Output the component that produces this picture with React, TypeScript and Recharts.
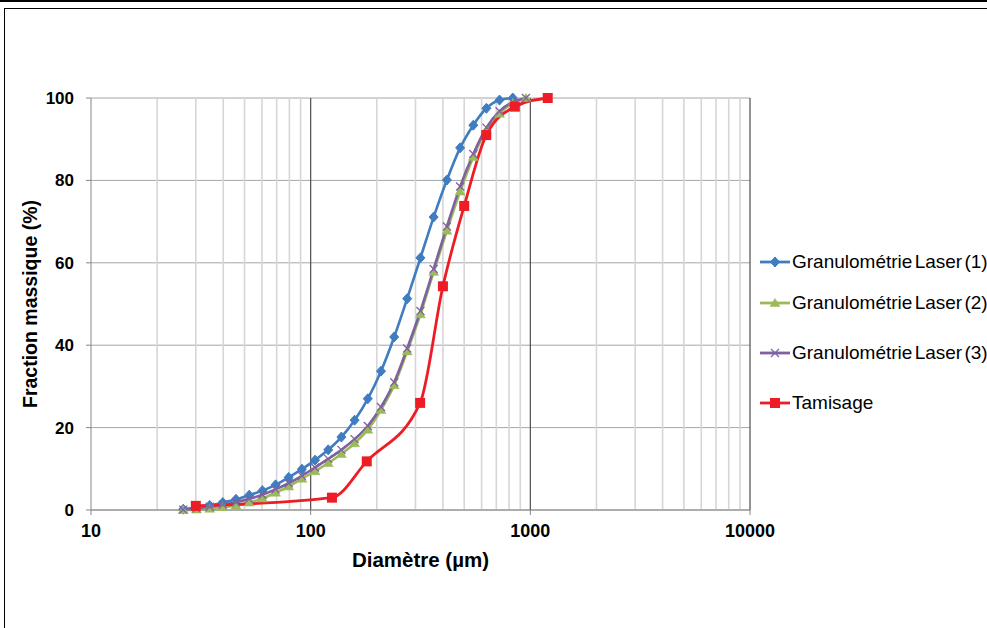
import React from "react";
import { LineChart, Line, XAxis, YAxis, CartesianGrid, ReferenceLine } from "recharts";

// Laser diffraction size classes (µm)
const laserDiam = [26.3, 30.2, 34.7, 39.8, 45.7, 52.5, 60.3, 69.2, 79.4, 91.2, 104.7, 120.2, 138, 158.5, 182, 209, 240, 275, 316, 363, 417, 479, 550, 631, 724, 832, 955];
const laser1 = [0.2, 0.6, 1.1, 1.8, 2.6, 3.6, 4.7, 6.1, 7.9, 9.9, 12.1, 14.6, 17.7, 21.8, 27.0, 33.7, 42.0, 51.3, 61.2, 71.1, 80.1, 87.9, 93.4, 97.5, 99.5, 100];
const laser2 = [0, 0.1, 0.3, 0.7, 1.1, 1.8, 2.8, 4.2, 5.7, 7.6, 9.4, 11.4, 13.6, 16.2, 19.5, 24.3, 30.3, 38.5, 47.5, 57.8, 67.8, 77.3, 85.7, 92.2, 96.2, 98.8, 100];
const laser3 = [0.1, 0.4, 0.8, 1.3, 1.9, 2.7, 3.7, 5.0, 6.5, 8.3, 10.3, 12.4, 14.6, 17.2, 20.4, 25.0, 31.0, 39.2, 48.3, 58.5, 68.8, 78.5, 86.4, 92.8, 96.8, 99.0, 100];
// Sieving
const sieveDiam = [30, 125, 180, 315, 400, 500, 630, 850, 1200];
const sieve = [1.0, 3.0, 11.8, 26.0, 54.3, 73.8, 91.0, 97.9, 100];

const xTicks = [10, 100, 1000, 10000];
const yTicks = [0, 20, 40, 60, 80, 100];
const minorX = [20, 30, 40, 50, 60, 70, 80, 90, 200, 300, 400, 500, 600, 700, 800, 900, 2000, 3000, 4000, 5000, 6000, 7000, 8000, 9000];
const majorX = [100, 1000, 10000];

const names = ["Granulométrie Laser (1)", "Granulométrie Laser (2)", "Granulométrie Laser (3)", "Tamisage"];

const mk = (xs: number[], ys: number[]) => ys.map((v, i) => ({ d: xs[i], v }));
const d1 = mk(laserDiam, laser1);
const d2 = mk(laserDiam, laser2);
const d3 = mk(laserDiam, laser3);
const d4 = mk(sieveDiam, sieve);

const BLUE = "#3f7cc0";
const GREEN = "#9bbb59";
const PURPLE = "#7f60a0";
const RED = "#ee1c25";
const FONT = "Arial, 'Liberation Sans', sans-serif";

const Diamond = ({ cx, cy, c }: any) => (
  <polygon points={`${cx},${cy - 5} ${cx + 4.5},${cy} ${cx},${cy + 5} ${cx - 4.5},${cy}`} fill={c} stroke={c} strokeWidth={1} />
);
const Tri = ({ cx, cy, c }: any) => (
  <polygon points={`${cx},${cy - 4.5} ${cx + 5},${cy + 3.5} ${cx - 5},${cy + 3.5}`} fill={c} stroke={c} strokeWidth={0.5} />
);
const Cross = ({ cx, cy, c }: any) => (
  <g stroke={c} strokeWidth={1.3}>
    <line x1={cx - 4} y1={cy - 4} x2={cx + 4} y2={cy + 4} />
    <line x1={cx - 4} y1={cy + 4} x2={cx + 4} y2={cy - 4} />
  </g>
);
const Square = ({ cx, cy, c }: any) => <rect x={cx - 5} y={cy - 5} width={10} height={10} fill={c} />;

const dotFn = (Comp: any, c: string) => (p: any) => {
  if (p.cx == null || p.cy == null) return <g key={p.index} />;
  return <Comp key={p.index} cx={p.cx} cy={p.cy} c={c} />;
};

const legendItems = [
  { name: names[0], c: BLUE, M: Diamond, y: 262 },
  { name: names[1], c: GREEN, M: Tri, y: 303 },
  { name: names[2], c: PURPLE, M: Cross, y: 353 },
  { name: names[3], c: RED, M: Square, y: 403 },
];

export default function App() {
  return (
    <div style={{ position: "absolute", left: 0, top: 0, width: 987, height: 628, overflow: "hidden", background: "#fff" }}>
      <div style={{ position: "absolute", left: 0, top: 0, width: 987, height: 2, background: "#000" }} />
      <div style={{ position: "absolute", left: 4, top: 8, width: 1100, height: 1000, borderLeft: "1px solid #000", borderTop: "1.5px solid #000" }} />
      <div style={{ position: "absolute", left: 0, top: 0 }}>
        <LineChart width={987} height={628} margin={{ top: 98, right: 237, bottom: 88, left: 0 }}>
          <CartesianGrid vertical={false} stroke="#a6a6a6" strokeWidth={1} />
          {minorX.map((v) => (
            <ReferenceLine key={"m" + v} x={v} stroke="#d6d6d6" strokeWidth={1.6} />
          ))}
          {majorX.map((v) => (
            <ReferenceLine key={"M" + v} x={v} stroke="#4d4d4d" strokeWidth={1.2} />
          ))}
          <XAxis
            type="number"
            dataKey="d"
            scale="log"
            domain={[10, 10000]}
            ticks={xTicks}
            allowDataOverflow
            height={30}
            tickSize={5}
            tickMargin={9}
            stroke="#868686"
            tick={{ fill: "#000", fontSize: 18, fontWeight: "bold", fontFamily: FONT }}
            label={{
              content: (props: any) => {
                const vb = props.viewBox || { x: 91, y: 510, width: 659 };
                return (
                  <text x={vb.x + vb.width / 2} y={vb.y + 49} textAnchor="middle" dominantBaseline="central" fontFamily={FONT} fontWeight="bold" fontSize={20.5} fill="#000">
                    Diamètre (µm)
                  </text>
                );
              },
            }}
          />
          <YAxis
            type="number"
            domain={[0, 100]}
            ticks={yTicks}
            width={91}
            tickSize={5}
            tickMargin={12}
            stroke="#868686"
            tick={{ fill: "#000", fontSize: 17, fontWeight: "bold", fontFamily: FONT }}
            label={{
              content: (props: any) => {
                const vb = props.viewBox || { x: 0, y: 98, height: 412 };
                const cx = vb.x + 30;
                const cy = vb.y + vb.height / 2;
                return (
                  <text x={cx} y={cy} transform={`rotate(-90 ${cx} ${cy})`} textAnchor="middle" dominantBaseline="central" fontFamily={FONT} fontWeight="bold" fontSize={19.5} fill="#000">
                    Fraction massique (%)
                  </text>
                );
              },
            }}
          />
          <Line data={d1} dataKey="v" name={names[0]} type="monotone" stroke={BLUE} strokeWidth={2.6} dot={dotFn(Diamond, BLUE)} isAnimationActive={false} />
          <Line data={d2} dataKey="v" name={names[1]} type="monotone" stroke={GREEN} strokeWidth={2.6} dot={dotFn(Tri, GREEN)} isAnimationActive={false} />
          <Line data={d3} dataKey="v" name={names[2]} type="monotone" stroke={PURPLE} strokeWidth={2.6} dot={dotFn(Cross, PURPLE)} isAnimationActive={false} />
          <Line data={d4} dataKey="v" name={names[3]} type="monotone" stroke={RED} strokeWidth={2.8} dot={dotFn(Square, RED)} isAnimationActive={false} />
        </LineChart>
      </div>
      {legendItems.map((it) => (
        <div key={it.name} style={{ position: "absolute", left: 758, top: it.y - 12, height: 24, display: "flex", alignItems: "center", whiteSpace: "nowrap" }}>
          <svg width={34} height={24} style={{ display: "block" }}>
            <line x1={2} y1={12} x2={32} y2={12} stroke={it.c} strokeWidth={2.8} />
            <it.M cx={17} cy={12} c={it.c} />
          </svg>
          <span style={{ fontFamily: FONT, fontSize: 19, wordSpacing: -3, color: "#000" }}>{it.name}</span>
        </div>
      ))}
    </div>
  );
}
